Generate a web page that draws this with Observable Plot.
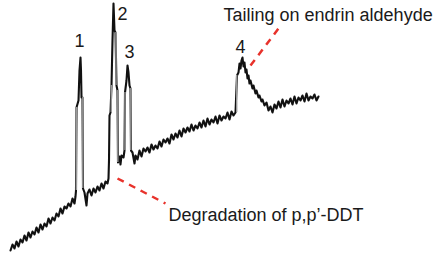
<!DOCTYPE html>
<html>
<head>
<meta charset="utf-8">
<script src="https://cdn.jsdelivr.net/npm/d3@7"></script>
<script src="https://cdn.jsdelivr.net/npm/@observablehq/plot@0.6"></script>
<style>
  html, body { margin: 0; padding: 0; background: #fff; }
  #chart svg { display: block; }
</style>
</head>
<body>
<div id="chart"></div>
<script>
// Retention time (arbitrary units) and detector response
const time = [
  10,12,14,16,18,20,22,24,26,28,30,32,34,36,38,40,42,44,46,48,50,52,54,56,58,60,62,64,66,68,70,72,74,75,
  75.5,76,78,79,80,80.5,81,82,82.5,
  84,86,87,89,91,93,95,97,99,101,103,105,107,
  108,108.5,109,110,111,112,113,114,115,116,117,117.5,
  119,120,121,123,124,124.5,126,127,128,129,130,130.5,
  132,134,135,137,139,141,143,145,147,149,151,153,155,157,159,161,163,165,167,169,171,173,175,177,179,181,183,185,187,189,191,193,195,197,199,201,203,205,207,209,211,213,215,217,219,221,223,225,227,229,231,233,
  235,236.5,238,239,240,241,242,243,244,245,246,247,248,249,250,252,253,255,256,258,259,261,262,264,266,268,270,272,274,276,278,280,282,284,286,288,290,292,294,296,298,300,302,304,306,308,310,312,314,316,318
];
const signal = [
  3,9,5,12,7,14,11,18,13,21,16,22,19,26,21,29,24,30,27,35,30,36,33,40,37,45,40,47,45,50,47,55,50,57,
  63,146,153,183,196,183,156,156,65,
  61,48,60,64,58,65,61,67,63,70,65,72,70,
  75,93,138,141,168,213,250,223,221,168,163,91,
  97,89,98,96,103,161,173,188,181,168,165,103,
  101,90,98,94,103,97,105,102,106,101,109,104,108,105,112,107,114,111,115,110,119,114,120,116,123,117,125,121,126,122,129,123,128,125,131,126,133,127,135,129,134,131,137,130,138,133,137,135,141,134,142,138,
  141,178,181,190,185,193,196,187,191,181,184,175,178,170,173,165,168,160,163,156,158,152,154,148,151,143,147,141,149,145,152,146,154,147,153,150,155,149,157,150,156,153,158,152,160,153,157,155,159,153,157
];

// Peak flanks (hollow-looking steep sides)
const flankTime = [75.8, 82.3, 110.8, 115.5, 117.3, 124.5, 130.3, 236.2];
const flankLow  = [63, 65, 141, 168, 91, 103, 103, 141];
const flankHigh = [146, 156, 168, 221, 163, 161, 165, 178];

// Peak numbers
const peakLabels = ["1", "2", "3", "4"];
const peakLabelTime = [79, 122, 129, 240];
const peakLabelSignal = [212, 239, 201, 206];

// Callouts
const calloutText = ["Tailing on endrin aldehyde", "Degradation of p,p’-DDT"];
const calloutTextTime = [223, 168];
const calloutTextSignal = [233, 33];
const leaderTime1 = [250, 117];
const leaderSignal1 = [188, 75];
const leaderTime2 = [278, 165];
const leaderSignal2 = [225, 50];

const trace = time.map((t, i) => ({t, s: signal[i]}));
const flanks = flankTime.map((t, i) => ({t, lo: flankLow[i], hi: flankHigh[i]}));
const peaks = peakLabels.map((l, i) => ({l, t: peakLabelTime[i], s: peakLabelSignal[i]}));
const callouts = calloutText.map((c, i) => ({c, t: calloutTextTime[i], s: calloutTextSignal[i]}));
const leaders = leaderTime1.map((t, i) => ({x1: t, y1: leaderSignal1[i], x2: leaderTime2[i], y2: leaderSignal2[i]}));

const font = "Liberation Sans, Arial, sans-serif";

const chart = Plot.plot({
  width: 437,
  height: 253,
  margin: 0,
  x: {domain: [0, 437], axis: null},
  y: {domain: [0, 253], axis: null},
  style: {background: "#fff"},
  marks: [
    Plot.line(trace, {x: "t", y: "s", stroke: "#111", strokeWidth: 2.1, curve: "linear"}),
    Plot.ruleX(flanks, {x: "t", y1: "lo", y2: "hi", stroke: "#9a9a9a", strokeWidth: 1.4}),
    Plot.link(leaders, {x1: "x1", y1: "y1", x2: "x2", y2: "y2", stroke: "#e8322b", strokeWidth: 2.5, strokeDasharray: "7,6"}),
    Plot.text(peaks, {x: "t", y: "s", text: "l", fontSize: 18, fontFamily: font, fill: "#1a1a1a", lineAnchor: "middle"}),
    Plot.text(callouts, {x: "t", y: "s", text: "c", fontSize: 18, fontFamily: font, fill: "#1a1a1a", textAnchor: "start", lineAnchor: "bottom"})
  ]
});
document.getElementById("chart").appendChild(chart);
</script>
</body>
</html>
